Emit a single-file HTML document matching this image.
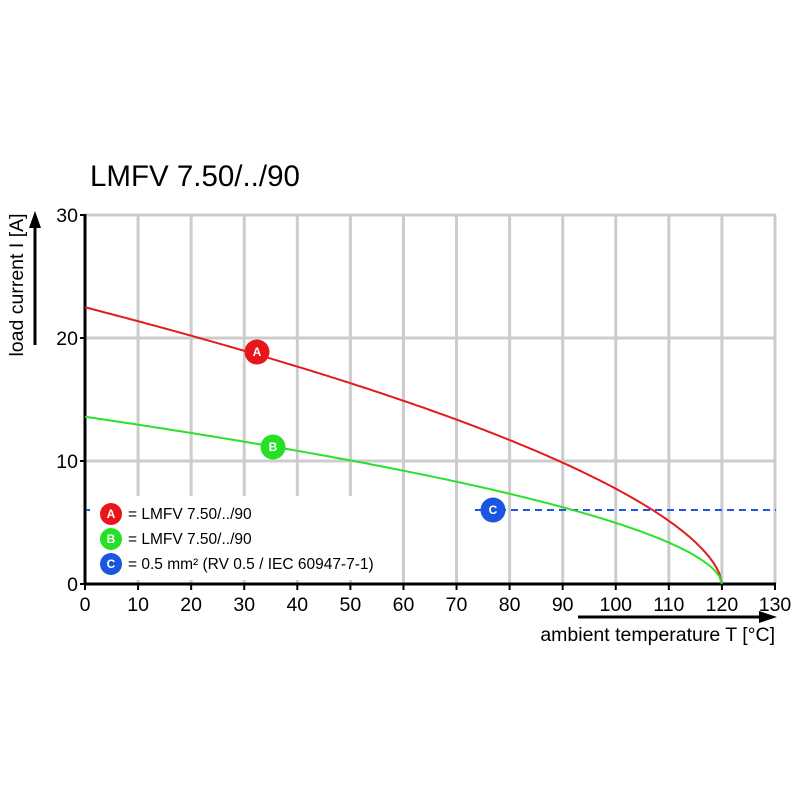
<!DOCTYPE html>
<html><head><style>body{margin:0;background:#fff}svg{display:block;font-family:"Liberation Sans",sans-serif}</style></head>
<body>
<svg id="s" width="800" height="800" viewBox="0 0 800 800" xmlns="http://www.w3.org/2000/svg">
<rect width="800" height="800" fill="#fff"/>
<text x="90" y="186" font-size="29.5" fill="#000">LMFV 7.50/../90</text>
<g id="grid" stroke="#cccccc" stroke-width="3"></g>
<rect x="95" y="496" width="292" height="84" fill="#fff"/>
<line x1="85" y1="584" x2="776" y2="584" stroke="#000" stroke-width="3"/>
<line x1="85" y1="214" x2="85" y2="585" stroke="#000" stroke-width="3"/>
<g id="ticks" stroke="#000" stroke-width="2"></g>
<g id="lbl" font-size="19.5" fill="#000"></g>
<line x1="475" y1="510" x2="776" y2="510" stroke="#2255dd" stroke-width="2" stroke-dasharray="7,5"/>
<line x1="86" y1="510" x2="90" y2="510" stroke="#2255dd" stroke-width="2"/>
<path id="red" fill="none" stroke="#e41b1b" stroke-width="2"/>
<path id="grn" fill="none" stroke="#2ee02e" stroke-width="2"/>
<g font-size="12" font-weight="bold" fill="#fff" text-anchor="middle">
<circle cx="257" cy="352" r="12.5" fill="#e8161b"/><text x="257" y="356">A</text>
<circle cx="273" cy="447" r="12.5" fill="#26e026"/><text x="273" y="451">B</text>
<circle cx="493" cy="510" r="12.5" fill="#1a56e0"/><text x="493" y="514">C</text>
<circle cx="111" cy="514" r="11" fill="#e8161b"/><text x="111" y="518">A</text>
<circle cx="111" cy="539" r="11" fill="#26e026"/><text x="111" y="543">B</text>
<circle cx="111" cy="564" r="11" fill="#1a56e0"/><text x="111" y="568">C</text>
</g>
<g font-size="15.5" fill="#000">
<text x="128" y="519">= LMFV 7.50/../90</text>
<text x="128" y="544">= LMFV 7.50/../90</text>
<text x="128" y="569">= 0.5 mm² (RV 0.5 / IEC 60947-7-1)</text>
</g>
<text transform="translate(23,285) rotate(-90)" font-size="19.5" text-anchor="middle" fill="#000">load current I [A]</text>
<line x1="35" y1="345" x2="35" y2="225" stroke="#000" stroke-width="3"/>
<polygon points="35,211 29,228 41,228" fill="#000"/>
<line x1="578" y1="617" x2="762" y2="617" stroke="#000" stroke-width="3"/>
<polygon points="777,617 759,611 759,623" fill="#000"/>
<text x="775" y="641" font-size="19.5" text-anchor="end" fill="#000">ambient temperature T [°C]</text>
</svg>
<script>
var X=function(t){return 85+t*690/130},Y=function(v){return 584-v*12.3};
var g=document.getElementById('grid'),tk=document.getElementById('ticks'),lb=document.getElementById('lbl'),ns='http://www.w3.org/2000/svg';
function el(p,n,a,t){var e=document.createElementNS(ns,n);for(var k in a)e.setAttribute(k,a[k]);if(t!=null)e.textContent=t;p.appendChild(e);return e}
for(var t=10;t<=130;t+=10)el(g,'line',{x1:X(t),y1:215,x2:X(t),y2:584});
for(var v=10;v<=30;v+=10)el(g,'line',{x1:85,y1:Y(v),x2:776,y2:Y(v)});
for(var t=0;t<=130;t+=10){el(tk,'line',{x1:X(t),y1:584,x2:X(t),y2:590});el(lb,'text',{x:X(t),y:611,'text-anchor':'middle'},t)}
for(var v=0;v<=30;v+=10){el(tk,'line',{x1:80,y1:Y(v),x2:85,y2:Y(v)});el(lb,'text',{x:78,y:Y(v)+7,'text-anchor':'end'},v)}
function path(id,k,p){var d='';for(var i=0;i<=240;i++){var t=i*0.5;var v=k*Math.pow(120-t,p);d+=(i?'L':'M')+X(t).toFixed(1)+','+Y(v).toFixed(1)}document.getElementById(id).setAttribute('d',d)}
path('red',22.5/Math.pow(120,0.595),0.595);
path('grn',13.6/Math.pow(120,0.562),0.562);
</script>
</body></html>
